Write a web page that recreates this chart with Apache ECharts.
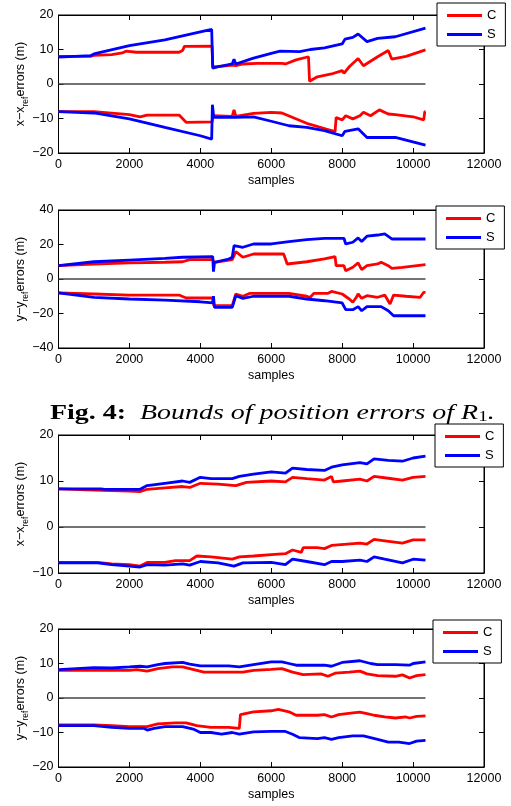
<!DOCTYPE html>
<html><head><meta charset="utf-8">
<script src="https://cdn.jsdelivr.net/npm/echarts@6/dist/echarts.min.js"></script>
<style>html,body{margin:0;padding:0;background:#fff}#c{width:511px;height:806px}</style>
</head><body><div id="c"></div><script>
// ---- data (x = sample index, y = error in metres) ----
const xTickMax = 12000, xTickStep = 2000;
const legendNames = ['C', 'S'];
const endSample = 10350;

// Panel 1: x - x_ref errors, R1
const p1_C_up = [[0,8],[900,8],[1000,8.3],[1500,8.5],[1800,9],[1900,9.5],[2200,9.2],[3400,9.2],[3500,9.7],[3550,10.9],[4330,11],[4350,5],[4450,5],[4900,5.5],[5000,5.3],[5200,5.8],[5600,6],[6300,6],[6400,5.8],[6700,7],[7050,7.9],[7080,0.8],[7300,2.1],[7700,2.9],[8000,3.9],[8050,3.1],[8200,5],[8450,7.4],[8600,5.3],[9000,7.9],[9300,9.7],[9350,9.8],[9400,7.2],[9800,8],[10350,9.9]];
const p1_S_up = [[0,7.8],[900,8.2],[1000,8.7],[2000,11.1],[3000,12.8],[4000,15.1],[4320,15.8],[4350,4.6],[4500,5],[4900,5.8],[4950,7.2],[5000,5.8],[5500,7.5],[6000,8.9],[6250,9.5],[6800,9.4],[7100,10],[7500,10.5],[8000,11.6],[8080,13],[8300,13.5],[8450,14.5],[8700,12.3],[9000,13.2],[9500,13.7],[10350,16.2]];
const p1_C_lo = [[0,-8],[1000,-8],[2000,-8.9],[2300,-9.5],[2500,-9],[3400,-9],[3600,-11.1],[4330,-11],[4360,-9.2],[4900,-9.4],[4950,-7.5],[5000,-9.4],[5500,-8.5],[6000,-8.2],[6300,-8.4],[7000,-11.4],[7500,-12.9],[7800,-13.8],[7830,-9.7],[8000,-10.4],[8100,-9.2],[8300,-10.1],[8500,-9.2],[8600,-8.2],[8800,-9.2],[9050,-7.5],[9300,-8.7],[9500,-8.9],[10000,-9.5],[10300,-10.4],[10330,-8],[10350,-8]];
const p1_S_lo = [[0,-8],[1000,-8.4],[2000,-10.1],[3000,-12.6],[4000,-15],[4320,-16],[4340,-6],[4380,-9.7],[5000,-9.7],[5500,-9.5],[6000,-10.8],[6500,-12.1],[7000,-12.6],[7500,-13.5],[8000,-15],[8080,-13.7],[8450,-13],[8700,-15.5],[9500,-15.5],[10350,-17.7]];

// Panel 2: y - y_ref errors, R1
const p2_C_up = [[0,7.7],[1000,8.7],[2000,9.3],[3000,9.7],[3500,10],[3700,11.2],[4350,11.2],[4400,9.7],[4900,11.2],[5000,15.9],[5200,12.6],[5500,14.5],[6350,14.5],[6450,8.7],[7000,10],[7500,11.6],[7800,13],[7830,7.7],[8050,7.7],[8100,4.8],[8300,6.8],[8450,9.3],[8550,5.4],[8700,7.7],[9000,8.7],[9100,9.7],[9300,7.7],[9400,6.2],[9700,6.8],[10350,8.3]];
const p2_S_up = [[0,7.7],[1000,10],[2000,11],[3000,12],[3500,12.6],[4350,13],[4370,4.3],[4400,9.7],[4800,11.6],[4900,12.6],[4950,19.3],[5200,18.4],[5500,20.3],[6000,20.3],[6500,21.7],[7000,22.8],[7500,23.6],[8050,23.6],[8100,20.3],[8300,21.3],[8450,23.8],[8550,21.7],[8700,24.8],[9000,25.5],[9200,26.1],[9400,23.2],[10350,23.2]];
const p2_C_lo = [[0,-8.1],[1000,-8.7],[2000,-9.3],[3400,-9.3],[3600,-11],[4350,-11],[4380,-15.5],[4900,-15.5],[5000,-8.7],[5200,-10],[5400,-8.3],[6500,-8.3],[7000,-10],[7100,-10.6],[7200,-8.3],[7600,-8.3],[7700,-7.2],[8000,-8.7],[8200,-11.6],[8300,-13.5],[8400,-10.6],[8450,-8.7],[8550,-11.2],[8700,-9.7],[9000,-10.6],[9200,-9.3],[9350,-14.5],[9450,-9.3],[9800,-10],[10200,-10.6],[10300,-7.7],[10350,-7.7]];
const p2_S_lo = [[0,-8.1],[1000,-10.6],[2000,-11.6],[3000,-12.2],[4000,-13.2],[4350,-13.9],[4370,-10],[4400,-16.4],[4900,-16.4],[5000,-9.7],[5200,-11.2],[5500,-10],[6500,-10],[7000,-11.6],[7500,-12.6],[8000,-13.9],[8100,-17.8],[8300,-17.8],[8450,-16],[8550,-18.4],[8700,-16],[9100,-16],[9300,-18.4],[9450,-21.3],[10350,-21.3]];

// Panel 3: x - x_ref errors
const p3_C_up = [[0,8.3],[1000,8],[2000,7.8],[2300,7.7],[2500,8.2],[3000,8.5],[3500,8.8],[3700,8.6],[4000,9.5],[4500,9.3],[5000,9],[5300,9.7],[6000,10],[6400,9.8],[6600,10.8],[7000,10.5],[7500,10.2],[7700,11],[7750,9.8],[8000,10],[8500,10.4],[8700,10],[8900,11],[9300,10.6],[9700,10.2],[10000,10.8],[10350,11]];
const p3_S_up = [[0,8.3],[1200,8.3],[1300,8.2],[2300,8.2],[2500,9],[3000,9.5],[3500,10],[3700,9.7],[4000,10.8],[4300,10.5],[4900,10.5],[5100,11],[5500,11.5],[6000,12],[6400,11.7],[6600,12.8],[7000,12.5],[7500,12.3],[7700,13],[8000,13.5],[8500,14],[8700,13.7],[8900,14.8],[9300,14.5],[9700,14.3],[10000,15],[10350,15.4]];
const p3_C_lo = [[0,-7.7],[1100,-7.7],[1500,-8],[2000,-8.2],[2300,-8.5],[2500,-7.7],[3000,-7.7],[3300,-7.3],[3700,-7.3],[3900,-6.3],[4300,-6.5],[4900,-7],[5100,-6.5],[5500,-6.3],[6000,-6],[6400,-5.8],[6600,-5],[6850,-5.5],[6900,-4.5],[7300,-4.5],[7500,-4.7],[7700,-4],[8500,-3.5],[8700,-3.7],[8900,-2.7],[9200,-3],[9700,-3.5],[10000,-2.8],[10350,-2.8]];
const p3_S_lo = [[0,-7.8],[1100,-7.8],[1500,-8.2],[2000,-8.5],[2300,-8.7],[2500,-8.2],[3000,-8.3],[3500,-8],[3700,-8.3],[4000,-7.5],[4500,-7.8],[4950,-8.5],[5200,-7.8],[6000,-7.7],[6400,-8.2],[6600,-7],[7000,-7.5],[7500,-8.2],[7700,-7.5],[8000,-7.5],[8500,-7.2],[8700,-7.5],[8900,-6.5],[9200,-7],[9700,-7.8],[10000,-7],[10350,-7.2]];

// Panel 4: y - y_ref errors
const p4_C_up = [[0,8],[1000,8],[1500,8],[2000,8],[2200,8.2],[2500,7.8],[2800,8.5],[3200,9],[3500,9],[3700,8.5],[4100,7.5],[5000,7.5],[5200,7.5],[5500,8],[6000,8.3],[6300,8.5],[6600,7.5],[6900,6.8],[7400,7],[7600,6.3],[7800,7.2],[8200,7.5],[8500,7.8],[8700,7],[9000,6.5],[9500,6.3],[9700,6.7],[9900,5.8],[10100,6.5],[10350,6.8]];
const p4_S_up = [[0,8.2],[500,8.5],[1000,8.8],[1500,8.7],[2000,9],[2300,9.2],[2500,9],[2800,9.7],[3000,10],[3500,10.3],[3700,9.8],[4000,9.3],[4800,9.3],[5100,9],[5500,9.7],[6000,10.5],[6300,10.5],[6500,10],[6700,9.5],[7500,9.5],[7700,9.2],[8000,10.3],[8500,10.8],[8800,10],[9000,9.7],[9500,9.7],[9900,9.5],[10000,10],[10350,10.5]];
const p4_C_lo = [[0,-7.8],[1000,-7.8],[1500,-8],[2000,-8.3],[2500,-8.3],[2800,-7.5],[3300,-7.2],[3600,-7.2],[3900,-8],[4300,-8.5],[4800,-8.5],[5100,-8.8],[5130,-4.8],[5500,-4],[6000,-3.7],[6200,-3.3],[6500,-4],[6700,-5],[7300,-5],[7500,-4.8],[7700,-5.5],[7900,-4.8],[8300,-4.3],[8500,-4.1],[8700,-4.5],[8900,-5],[9200,-5.5],[9500,-5.8],[9800,-5.5],[9900,-5.8],[10100,-5.3],[10350,-5.2]];
const p4_S_lo = [[0,-8],[1000,-8],[1500,-8.5],[2000,-8.8],[2400,-8.8],[2500,-9.3],[2700,-8.8],[3000,-8.3],[3500,-8.3],[3800,-9],[4000,-10],[4300,-10],[4600,-10.5],[4900,-10],[5100,-10.5],[5500,-9.8],[6000,-9.7],[6400,-9.7],[6600,-10.5],[6800,-11.5],[7300,-11.8],[7500,-11.5],[7700,-12],[7900,-11.5],[8300,-11],[8600,-11],[8800,-11.5],[9000,-12],[9300,-12.8],[9600,-12.8],[9900,-13.2],[10100,-12.5],[10350,-12.3]];

const yRanges = [[-20,20,10],[-40,40,20],[-10,20,10],[-20,20,10]];
const yNames = [
  '{a|x\u2212x}{s|ref}{a|errors (m)}',
  '{a|y\u2212y}{s|ref}{a|errors (m)}',
  '{a|x\u2212x}{s|ref}{a|errors (m)}',
  '{a|y\u2212y}{s|ref}{a|errors (m)}'
];
const panels = [
  [p1_C_up, p1_C_lo, p1_S_up, p1_S_lo],
  [p2_C_up, p2_C_lo, p2_S_up, p2_S_lo],
  [p3_C_up, p3_C_lo, p3_S_up, p3_S_lo],
  [p4_C_up, p4_C_lo, p4_S_up, p4_S_lo]
];

// ---- layout ----
const gridTops = [15, 210, 435, 629];
const legendPos = [[437,3],[436,206],[435,424],[433,620]];
const FONT = 'Liberation Sans';
const RED = '#ff0000', BLUE = '#0000ff';
const minus = v => String(v).replace('-', '\u2212');

const grid = [], xAxis = [], yAxis = [], series = [], legend = [];
gridTops.forEach((t, i) => {
  grid.push({left: 58.5, width: 425.5, top: t, height: 138, show: true, borderColor: '#000', borderWidth: 1, backgroundColor: 'transparent'});
  const common = {gridIndex: i, type: 'value', min: 0, max: xTickMax, interval: xTickStep,
    axisLine: {show: true, onZero: false, lineStyle: {color: '#000', width: 1}},
    axisTick: {show: true, inside: true, length: 5, lineStyle: {color: '#000'}},
    splitLine: {show: false}};
  xAxis.push(Object.assign({}, common, {position: 'bottom',
    axisLabel: {show: true, fontFamily: FONT, fontSize: 12.5, color: '#000', margin: 5, formatter: v => String(v)},
    name: 'samples', nameLocation: 'middle', nameGap: 21,
    nameTextStyle: {fontFamily: FONT, fontSize: 12.5, color: '#000'}}));
  xAxis.push(Object.assign({}, common, {position: 'top', axisLabel: {show: false}}));
  const [ymin, ymax, yint] = yRanges[i];
  const ycommon = {gridIndex: i, type: 'value', min: ymin, max: ymax, interval: yint,
    axisLine: {show: true, onZero: false, lineStyle: {color: '#000', width: 1}},
    axisTick: {show: true, inside: true, length: 5, lineStyle: {color: '#000'}},
    splitLine: {show: false}};
  yAxis.push(Object.assign({}, ycommon, {position: 'left',
    axisLabel: {show: true, fontFamily: FONT, fontSize: 12.5, color: '#000', margin: 5, formatter: minus},
    name: yNames[i], nameLocation: 'middle', nameGap: 28, nameMoveOverlap: false,
    nameTextStyle: {fontFamily: FONT, fontSize: 12.5, color: '#000',
      rich: {a: {fontFamily: FONT, fontSize: 12.5, color: '#000', lineHeight: 20, verticalAlign: 'middle'},
             s: {fontFamily: FONT, fontSize: 8.5, color: '#000', lineHeight: 20, verticalAlign: 'bottom'}}}}));
  yAxis.push(Object.assign({}, ycommon, {position: 'right', axisLabel: {show: false}}));

  series.push({type: 'line', name: 'zero', xAxisIndex: 2*i, yAxisIndex: 2*i, data: [[0,0],[endSample,0]],
    showSymbol: false, symbol: 'none', lineStyle: {color: '#444', width: 1.3}, silent: true, z: 1});
  const [cu, cl, su, sl] = panels[i];
  [[su,'S',BLUE],[sl,'S',BLUE],[cu,'C',RED],[cl,'C',RED]].forEach(([d, n, col]) => {
    series.push({type: 'line', name: n, xAxisIndex: 2*i, yAxisIndex: 2*i, data: d,
      showSymbol: false, symbol: 'none', color: col,
      lineStyle: {color: col, width: 2.8}, z: n === 'S' ? 3 : 2});
  });
  legend.push({data: legendNames, orient: 'vertical', left: legendPos[i][0], top: legendPos[i][1],
    icon: 'rect', itemWidth: 35, itemHeight: 3, itemGap: 4, padding: [5, 9, 4, 10],
    backgroundColor: '#fff', borderColor: '#000', borderWidth: 1, borderRadius: 0,
    textStyle: {fontFamily: FONT, fontSize: 13, color: '#000', lineHeight: 15},
    selectedMode: false, z: 10});
});

const chart = echarts.init(document.getElementById('c'), null, {renderer: 'canvas'});
chart.setOption({
  animation: false,
  backgroundColor: '#fff',
  grid, xAxis, yAxis, series, legend,
  graphic: [{
    type: 'text', x: 50, y: 401, scaleX: 1.27, scaleY: 1, z: 20,
    style: {
      x: 0, y: 0,
      text: '{b|Fig. 4:}{i|  Bounds of position errors of }{i|R}{sub|1}{i|.}',
      rich: {
        b: {fontFamily: 'Liberation Serif', fontWeight: 'bold', fontSize: 22, fill: '#000', lineHeight: 24},
        i: {fontFamily: 'Liberation Serif', fontStyle: 'italic', fontSize: 22, fill: '#000', lineHeight: 24},
        sub: {fontFamily: 'Liberation Serif', fontSize: 15, fill: '#000', lineHeight: 24, verticalAlign: 'bottom'}
      }
    }
  }]
});
</script></body></html>
